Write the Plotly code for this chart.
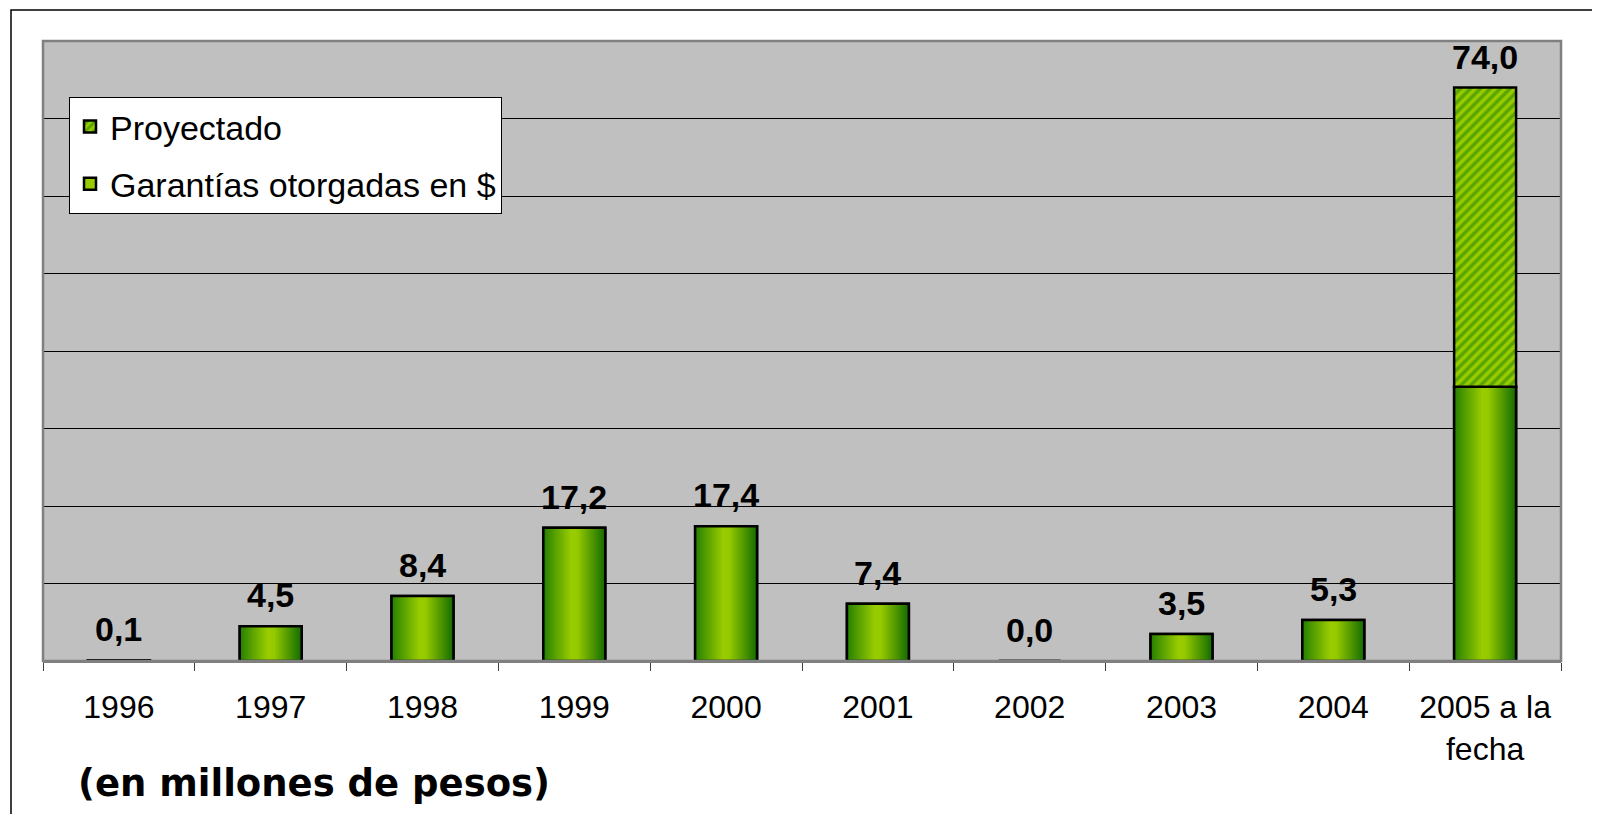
import plotly.graph_objects as go

# ---- data ----
categories = ["1996", "1997", "1998", "1999", "2000", "2001", "2002", "2003", "2004", "2005 a la<br>fecha"]
otorgadas = [0.1, 4.5, 8.4, 17.2, 17.4, 7.4, 0.0, 3.5, 5.3, 35.4]
proyectado_cat = ["2005 a la<br>fecha"]
proyectado = [38.6]
proyectado_base = [35.4]
totales = [0.1, 4.5, 8.4, 17.2, 17.4, 7.4, 0.0, 3.5, 5.3, 74.0]
etiquetas = [f"{v:.1f}".replace(".", ",") for v in totales]

W = 0.408  # bar width in category units
N = 30     # gradient strips

stops = [(0.0, (38, 128, 0)), (0.45, (153, 204, 0)), (0.55, (150, 202, 0)), (1.0, (18, 108, 0))]


def grad(t):
    for (t0, c0), (t1, c1) in zip(stops[:-1], stops[1:]):
        if t0 <= t <= t1:
            f = (t - t0) / (t1 - t0) if t1 > t0 else 0
            return "rgb(%d,%d,%d)" % tuple(round(a + (b - a) * f) for a, b in zip(c0, c1))
    return "rgb(%d,%d,%d)" % stops[-1][1]


# page offset (body margin) compensation
OX, OY = 8, 8
L, R, T, B = 43 - OX, 1561 - OX, 41 - OY, 661 - OY
PW, PH = R - L, B - T


def px_x(x):
    return (x - OX - L) / PW


def px_y(y):
    return (B - (y - OY)) / PH


fig = go.Figure()

fig.add_trace(go.Bar(
    x=categories, y=otorgadas, width=W, name="Garantías otorgadas en $",
    marker=dict(color="#99cc00", line=dict(color="black", width=2.5)),
    legendgroup="g", legendrank=2, hoverinfo="skip",
))

for j in range(N):
    t = (j + 0.5) / N
    fig.add_trace(go.Bar(
        x=categories, y=otorgadas,
        width=W - j * W / N, offset=-W / 2 + j * W / N,
        marker=dict(color=grad(t), line=dict(width=0)),
        showlegend=False, hoverinfo="skip", legendgroup="g",
    ))

fig.add_trace(go.Bar(
    x=categories, y=otorgadas, width=W,
    marker=dict(color="rgba(0,0,0,0)", line=dict(color="black", width=2.5)),
    showlegend=False, hoverinfo="skip", legendgroup="g",
))

fig.add_trace(go.Bar(
    x=proyectado_cat, y=proyectado, base=proyectado_base, width=W, name="Proyectado",
    marker=dict(color="#99cc00", line=dict(color="black", width=2.5),
                pattern=dict(shape="/", fgcolor="#1a7d00", bgcolor="#99cc00", size=7, solidity=0.5)),
    legendgroup="p", legendrank=1, hoverinfo="skip",
))

annotations = [
    dict(x=i, y=v, xref="x", yref="y", text=f"<b>{t}</b>", showarrow=False,
         yanchor="bottom", xanchor="center", yshift=10,
         font=dict(family="Liberation Sans, Arial", size=34, color="black"))
    for i, (v, t) in enumerate(zip(totales, etiquetas))
]
annotations.append(
    dict(text="<b>(en millones de pesos)</b>", xref="paper", yref="paper",
         x=px_x(76), y=px_y(783), xanchor="left", yanchor="middle",
         showarrow=False, font=dict(family="DejaVu Sans", size=37, color="black"))
)

fig.update_layout(
    width=1600, height=814,
    margin=dict(l=L, r=1600 - R, t=T, b=814 - B),
    paper_bgcolor="white", plot_bgcolor="#c0c0c0",
    barmode="overlay",
    font=dict(family="Liberation Sans, Arial", color="black"),
    showlegend=True,
    legend=dict(
        x=px_x(69), y=px_y(97), xanchor="left", yanchor="top",
        bgcolor="white", bordercolor="black", borderwidth=1,
        font=dict(family="Liberation Sans, Arial", size=34, color="black"),
        tracegroupgap=10, itemwidth=30, traceorder="grouped",
    ),
    xaxis=dict(
        type="category", categoryorder="array", categoryarray=categories,
        range=[-0.5, len(categories) - 0.5],
        tickson="boundaries", ticks="outside", ticklen=8,
        tickcolor="#404040", tickwidth=1,
        showline=True, linecolor="#808080", linewidth=2,
        tickfont=dict(family="Liberation Sans, Arial", size=32, color="black"),
        ticklabelstandoff=17, tickangle=0,
        showgrid=False, fixedrange=True,
    ),
    yaxis=dict(
        range=[0, 80], dtick=10, showticklabels=False, ticks="",
        showgrid=True, gridcolor="black", gridwidth=1, zeroline=False,
        showline=False, fixedrange=True,
    ),
    shapes=[
        dict(type="rect", xref="paper", yref="paper", x0=0, x1=1, y0=0, y1=1,
             line=dict(color="#808080", width=2.5), fillcolor="rgba(0,0,0,0)", layer="above"),
        dict(type="rect", xref="paper", yref="paper",
             x0=px_x(11), x1=px_x(1620), y0=px_y(840), y1=px_y(10),
             line=dict(color="black", width=1.5), fillcolor="rgba(0,0,0,0)", layer="above"),
    ],
    annotations=annotations,
)

fig.write_html("out.html")
